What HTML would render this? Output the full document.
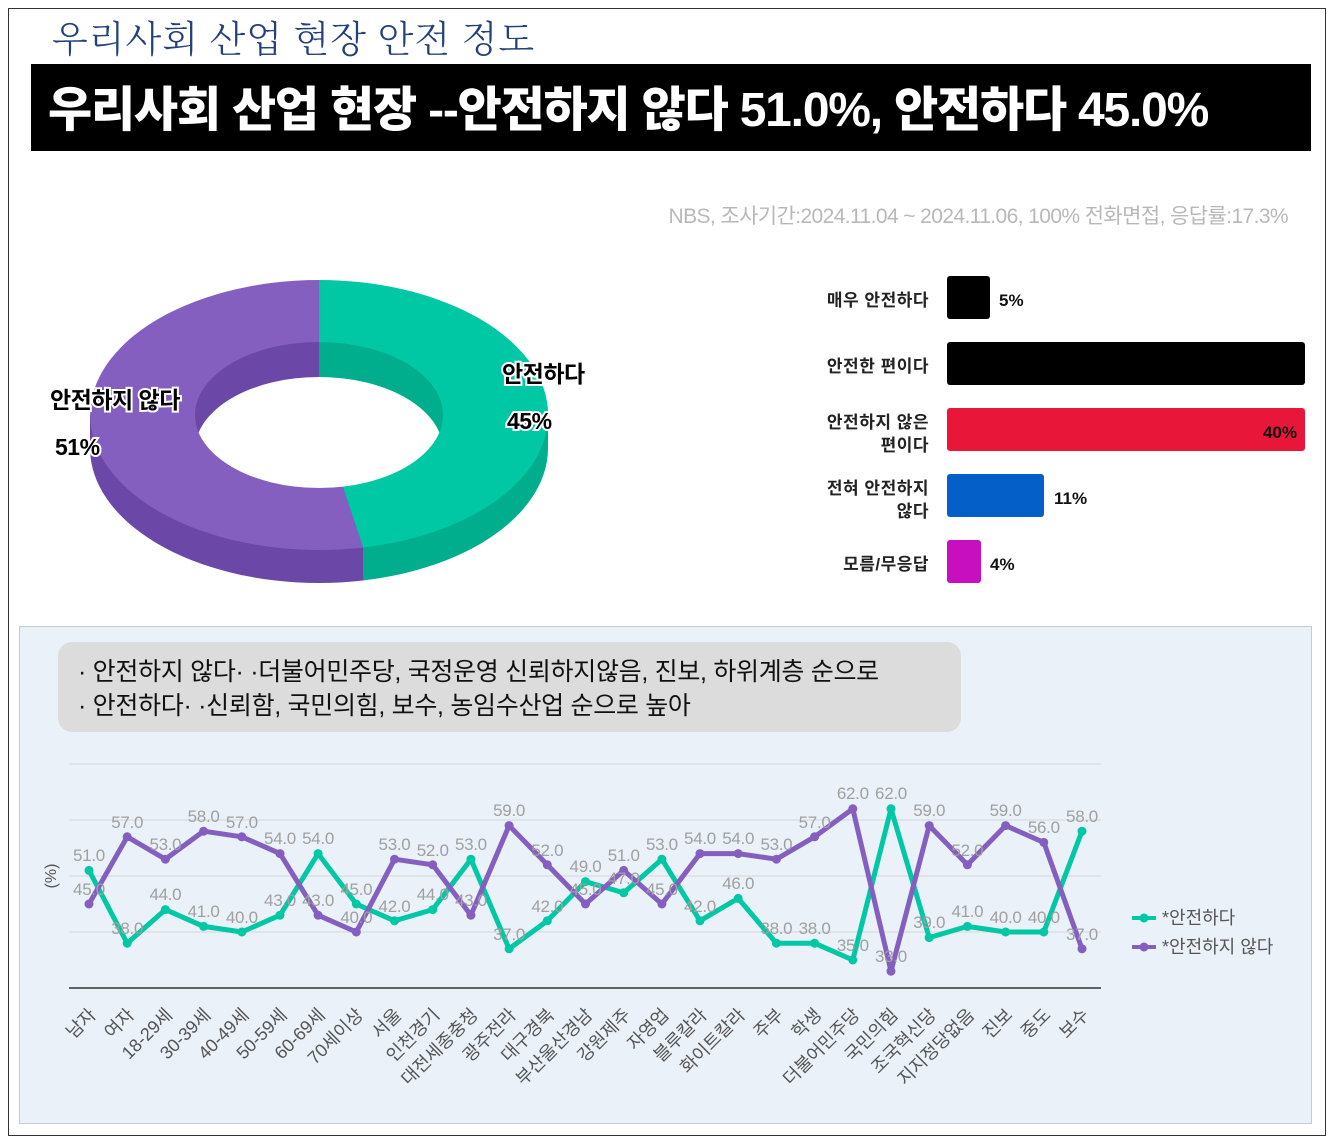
<!DOCTYPE html>
<html><head><meta charset="utf-8"><style>
html,body{margin:0;padding:0;background:#fff;}
body{width:1342px;height:1144px;position:relative;overflow:hidden;font-family:"Liberation Sans","Noto Sans CJK KR",sans-serif;}
</style></head><body>
<svg width="1342" height="1144" viewBox="0 0 1342 1144" xmlns="http://www.w3.org/2000/svg" style="position:absolute;left:0;top:0;font-family:'Liberation Sans','Noto Sans CJK KR',sans-serif">
<rect x="8.5" y="8.5" width="1317" height="1127" fill="#fff" stroke="#333" stroke-width="1"/>
<text x="52" y="52" font-size="37" fill="#24407a" font-family="'Noto Serif CJK SC','Noto Sans CJK KR',serif" font-weight="300" letter-spacing="1">우리사회 산업 현장 안전 정도</text>
<rect x="31" y="64" width="1280" height="87" fill="#000"/>
<text x="48" y="126" font-size="48" fill="#fff" font-weight="900" letter-spacing="-1.2">우리사회 산업 현장 --안전하지 않다 51.0%, 안전하다 45.0%</text>
<text x="1288" y="223" font-size="21" fill="#b8b8b8" text-anchor="end" letter-spacing="-0.6">NBS, 조사기간:2024.11.04 ~ 2024.11.06, 100% 전화면접, 응답률:17.3%</text>

<defs>
<clipPath id="cl"><rect x="0" y="0" width="363" height="700"/></clipPath>
<clipPath id="cr"><rect x="363" y="0" width="400" height="700"/></clipPath>
<clipPath id="hole"><ellipse cx="319" cy="415" rx="124" ry="73"/></clipPath>
</defs>
<g clip-path="url(#cl)">
<ellipse cx="319" cy="448" rx="229" ry="135" fill="#6b47a8"/>
<rect x="90" y="415" width="229" height="33" fill="#6b47a8"/>
<rect x="319" y="415" width="229" height="33" fill="#6b47a8"/>
</g>
<g clip-path="url(#cr)">
<ellipse cx="319" cy="448" rx="229" ry="135" fill="#00ad8c"/>
<rect x="319" y="415" width="229" height="33" fill="#00ad8c"/>
</g>
<path d="M319,415 L319,280 A229,135 0 0 1 363,547.5 Z" fill="#00c8a5"/>
<path d="M319,415 L363,547.5 A229,135 0 1 1 319,280 Z" fill="#845fc0"/>
<path d="M319,415 L319,342 A124,73 0 0 0 319,488 Z" fill="#6b47a8"/>
<path d="M319,415 L319,342 A124,73 0 0 1 319,488 Z" fill="#00ad8c"/>
<ellipse cx="319" cy="450" rx="124" ry="73" fill="#fff" clip-path="url(#hole)"/>
<g font-size="23" font-weight="bold" fill="#000" stroke="#fff" stroke-width="4" paint-order="stroke" letter-spacing="-0.5">
<text x="502" y="382">안전하다</text>
<text x="507" y="429">45%</text>
<text x="50" y="408">안전하지 않다</text>
<text x="55" y="455">51%</text>
</g>

<g font-size="17" fill="#222" text-anchor="end" font-weight="bold" letter-spacing="0.5">
<text x="929" y="306">매우 안전하다</text>
<text x="929" y="372">안전한 편이다</text>
<text x="929" y="428">안전하지 않은</text>
<text x="929" y="451">편이다</text>
<text x="929" y="494">전혀 안전하지</text>
<text x="929" y="517">않다</text>
<text x="929" y="570">모름/무응답</text>
</g>
<rect x="947" y="276" width="43" height="43" rx="3" fill="#000"/>
<rect x="947" y="342" width="358" height="43" rx="3" fill="#000"/>
<rect x="947" y="408" width="358" height="43" rx="3" fill="#e8173a"/>
<rect x="947" y="474" width="97" height="43" rx="3" fill="#055fc8"/>
<rect x="947" y="540" width="34" height="43" rx="3" fill="#c80fbf"/>
<g font-size="17" font-weight="bold" fill="#111">
<text x="999" y="306">5%</text>
<text x="1297" y="438" text-anchor="end">40%</text>
<text x="1054" y="504">11%</text>
<text x="990" y="570">4%</text>
</g>

<rect x="19.5" y="626.5" width="1292" height="497" fill="#eaf1f8" stroke="#c3ccd6"/>
<rect x="58" y="642" width="903" height="90" rx="14" fill="#dcdcdc"/>
<g font-size="25" fill="#111" letter-spacing="-0.3">
<text x="78" y="680">· 안전하지 않다· ·더불어민주당, 국정운영 신뢰하지않음, 진보, 하위계층 순으로</text>
<text x="78" y="714">· 안전하다· ·신뢰함, 국민의힘, 보수, 농임수산업 순으로 높아</text>
</g>
<g stroke="#dcdfe2" stroke-width="1.5">
<line x1="69" y1="764" x2="1101" y2="764"/>
<line x1="69" y1="820" x2="1101" y2="820"/>
<line x1="69" y1="876" x2="1101" y2="876"/>
<line x1="69" y1="932" x2="1101" y2="932"/>
</g>
<line x1="69" y1="988" x2="1101" y2="988" stroke="#333" stroke-width="1.5"/>
<text x="56" y="876" font-size="16" fill="#555" transform="rotate(-90 56 876)" text-anchor="middle">(%)</text>

<polyline fill="none" stroke="#00c8a5" stroke-width="5" stroke-linejoin="round" points="89,870.4 127.2,943.2 165.4,909.6 203.6,926.4 241.8,932 280,915.2 318.1,853.6 356.3,904 394.5,920.8 432.7,909.6 470.9,859.2 509.1,948.8 547.3,920.8 585.5,881.6 623.7,892.8 661.9,859.2 700,920.8 738.2,898.4 776.4,943.2 814.6,943.2 852.8,960 891,808.8 929.2,937.6 967.4,926.4 1005.6,932 1043.8,932 1082,831.2"/>
<polyline fill="none" stroke="#845fc0" stroke-width="5" stroke-linejoin="round" points="89,904 127.2,836.8 165.4,859.2 203.6,831.2 241.8,836.8 280,853.6 318.1,915.2 356.3,932 394.5,859.2 432.7,864.8 470.9,915.2 509.1,825.6 547.3,864.8 585.5,904 623.7,870.4 661.9,904 700,853.6 738.2,853.6 776.4,859.2 814.6,836.8 852.8,808.8 891,971.2 929.2,825.6 967.4,864.8 1005.6,825.6 1043.8,842.4 1082,948.8"/>
<g fill="#00c8a5">
<circle cx="89" cy="870.4" r="4.5"/><circle cx="127.2" cy="943.2" r="4.5"/><circle cx="165.4" cy="909.6" r="4.5"/><circle cx="203.6" cy="926.4" r="4.5"/><circle cx="241.8" cy="932" r="4.5"/><circle cx="280" cy="915.2" r="4.5"/><circle cx="318.1" cy="853.6" r="4.5"/><circle cx="356.3" cy="904" r="4.5"/><circle cx="394.5" cy="920.8" r="4.5"/><circle cx="432.7" cy="909.6" r="4.5"/><circle cx="470.9" cy="859.2" r="4.5"/><circle cx="509.1" cy="948.8" r="4.5"/><circle cx="547.3" cy="920.8" r="4.5"/><circle cx="585.5" cy="881.6" r="4.5"/><circle cx="623.7" cy="892.8" r="4.5"/><circle cx="661.9" cy="859.2" r="4.5"/><circle cx="700" cy="920.8" r="4.5"/><circle cx="738.2" cy="898.4" r="4.5"/><circle cx="776.4" cy="943.2" r="4.5"/><circle cx="814.6" cy="943.2" r="4.5"/><circle cx="852.8" cy="960" r="4.5"/><circle cx="891" cy="808.8" r="4.5"/><circle cx="929.2" cy="937.6" r="4.5"/><circle cx="967.4" cy="926.4" r="4.5"/><circle cx="1005.6" cy="932" r="4.5"/><circle cx="1043.8" cy="932" r="4.5"/><circle cx="1082" cy="831.2" r="4.5"/>
</g>
<g fill="#845fc0">
<circle cx="89" cy="904" r="4.5"/><circle cx="127.2" cy="836.8" r="4.5"/><circle cx="165.4" cy="859.2" r="4.5"/><circle cx="203.6" cy="831.2" r="4.5"/><circle cx="241.8" cy="836.8" r="4.5"/><circle cx="280" cy="853.6" r="4.5"/><circle cx="318.1" cy="915.2" r="4.5"/><circle cx="356.3" cy="932" r="4.5"/><circle cx="394.5" cy="859.2" r="4.5"/><circle cx="432.7" cy="864.8" r="4.5"/><circle cx="470.9" cy="915.2" r="4.5"/><circle cx="509.1" cy="825.6" r="4.5"/><circle cx="547.3" cy="864.8" r="4.5"/><circle cx="585.5" cy="904" r="4.5"/><circle cx="623.7" cy="870.4" r="4.5"/><circle cx="661.9" cy="904" r="4.5"/><circle cx="700" cy="853.6" r="4.5"/><circle cx="738.2" cy="853.6" r="4.5"/><circle cx="776.4" cy="859.2" r="4.5"/><circle cx="814.6" cy="836.8" r="4.5"/><circle cx="852.8" cy="808.8" r="4.5"/><circle cx="891" cy="971.2" r="4.5"/><circle cx="929.2" cy="825.6" r="4.5"/><circle cx="967.4" cy="864.8" r="4.5"/><circle cx="1005.6" cy="825.6" r="4.5"/><circle cx="1043.8" cy="842.4" r="4.5"/><circle cx="1082" cy="948.8" r="4.5"/>
</g>
<g font-size="17" fill="#a0a0a0" text-anchor="middle" letter-spacing="-0.3">
<text x="89" y="861">51.0</text><text x="127.2" y="934">38.0</text><text x="165.4" y="900">44.0</text><text x="203.6" y="917">41.0</text><text x="241.8" y="923">40.0</text><text x="280" y="906">43.0</text><text x="318.1" y="844">54.0</text><text x="356.3" y="895">45.0</text><text x="394.5" y="912">42.0</text><text x="432.7" y="900">44.0</text><text x="470.9" y="850">53.0</text><text x="509.1" y="940">37.0</text><text x="547.3" y="912">42.0</text><text x="585.5" y="872">49.0</text><text x="623.7" y="884">47.0</text><text x="661.9" y="850">53.0</text><text x="700" y="912">42.0</text><text x="738.2" y="889">46.0</text><text x="776.4" y="934">38.0</text><text x="814.6" y="934">38.0</text><text x="852.8" y="951">35.0</text><text x="891" y="799">62.0</text><text x="929.2" y="928">39.0</text><text x="967.4" y="917">41.0</text><text x="1005.6" y="923">40.0</text><text x="1043.8" y="923">40.0</text><text x="1082" y="822">58.0</text>
<text x="89" y="895">45.0</text><text x="127.2" y="828">57.0</text><text x="165.4" y="850">53.0</text><text x="203.6" y="822">58.0</text><text x="241.8" y="828">57.0</text><text x="280" y="844">54.0</text><text x="318.1" y="906">43.0</text><text x="356.3" y="923">40.0</text><text x="394.5" y="850">53.0</text><text x="432.7" y="856">52.0</text><text x="470.9" y="906">43.0</text><text x="509.1" y="816">59.0</text><text x="547.3" y="856">52.0</text><text x="585.5" y="895">45.0</text><text x="623.7" y="861">51.0</text><text x="661.9" y="895">45.0</text><text x="700" y="844">54.0</text><text x="738.2" y="844">54.0</text><text x="776.4" y="850">53.0</text><text x="814.6" y="828">57.0</text><text x="852.8" y="799">62.0</text><text x="891" y="962">33.0</text><text x="929.2" y="816">59.0</text><text x="967.4" y="856">52.0</text><text x="1005.6" y="816">59.0</text><text x="1043.8" y="833">56.0</text><text x="1082" y="940">37.0</text>
</g>
<g font-size="18" fill="#555" text-anchor="end">
<text transform="translate(97,1016) rotate(-45)">남자</text>
<text transform="translate(135.2,1016) rotate(-45)">여자</text>
<text transform="translate(173.4,1016) rotate(-45)">18-29세</text>
<text transform="translate(211.6,1016) rotate(-45)">30-39세</text>
<text transform="translate(249.8,1016) rotate(-45)">40-49세</text>
<text transform="translate(288,1016) rotate(-45)">50-59세</text>
<text transform="translate(326.1,1016) rotate(-45)">60-69세</text>
<text transform="translate(364.3,1016) rotate(-45)">70세이상</text>
<text transform="translate(402.5,1016) rotate(-45)">서울</text>
<text transform="translate(440.7,1016) rotate(-45)">인천경기</text>
<text transform="translate(478.9,1016) rotate(-45)">대전세종충청</text>
<text transform="translate(517.1,1016) rotate(-45)">광주전라</text>
<text transform="translate(555.3,1016) rotate(-45)">대구경북</text>
<text transform="translate(593.5,1016) rotate(-45)">부산울산경남</text>
<text transform="translate(631.7,1016) rotate(-45)">강원제주</text>
<text transform="translate(669.9,1016) rotate(-45)">자영업</text>
<text transform="translate(708,1016) rotate(-45)">블루칼라</text>
<text transform="translate(746.2,1016) rotate(-45)">화이트칼라</text>
<text transform="translate(784.4,1016) rotate(-45)">주부</text>
<text transform="translate(822.6,1016) rotate(-45)">학생</text>
<text transform="translate(860.8,1016) rotate(-45)">더불어민주당</text>
<text transform="translate(899,1016) rotate(-45)">국민의힘</text>
<text transform="translate(937.2,1016) rotate(-45)">조국혁신당</text>
<text transform="translate(975.4,1016) rotate(-45)">지지정당없음</text>
<text transform="translate(1013.6,1016) rotate(-45)">진보</text>
<text transform="translate(1051.8,1016) rotate(-45)">중도</text>
<text transform="translate(1090,1016) rotate(-45)">보수</text>
</g>
<line x1="1132" y1="918" x2="1156" y2="918" stroke="#00c8a5" stroke-width="4"/>
<circle cx="1144" cy="918" r="4.5" fill="#00c8a5"/>
<text x="1162" y="924" font-size="18" fill="#555">*안전하다</text>
<line x1="1132" y1="947" x2="1156" y2="947" stroke="#845fc0" stroke-width="4"/>
<circle cx="1144" cy="947" r="4.5" fill="#845fc0"/>
<text x="1162" y="953" font-size="18" fill="#555">*안전하지 않다</text>
</svg>
</body></html>
